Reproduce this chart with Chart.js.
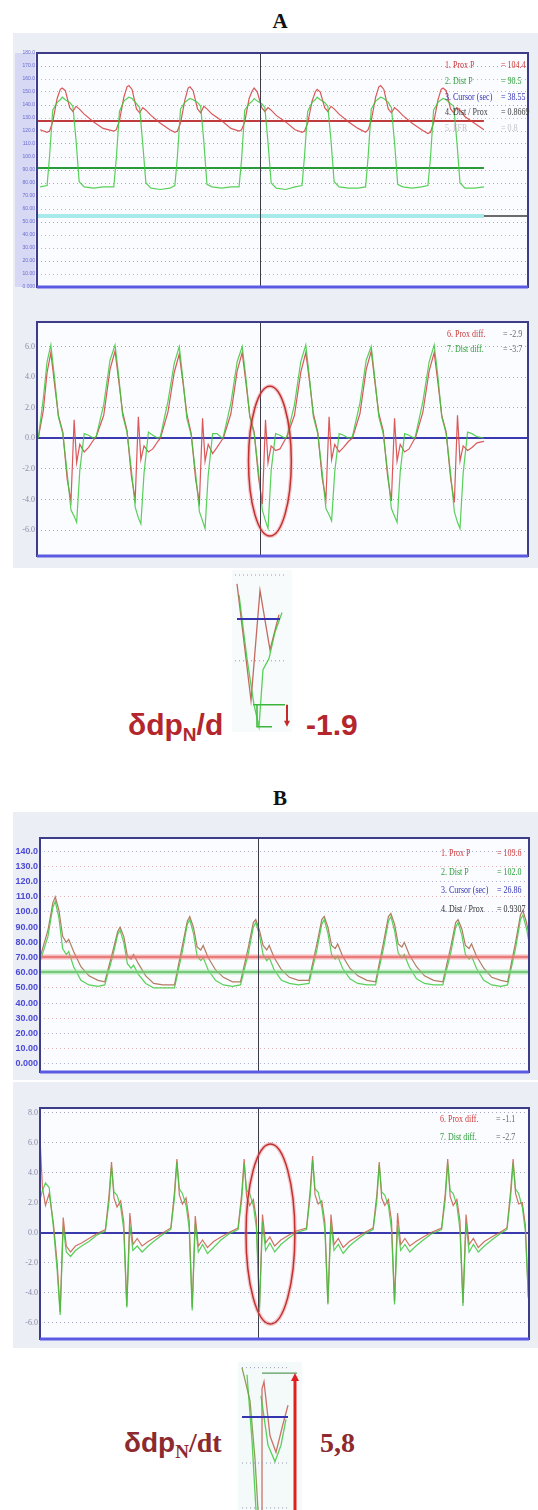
<!DOCTYPE html>
<html>
<head>
<meta charset="utf-8">
<script src="https://cdn.jsdelivr.net/npm/chart.js@4.4.1/dist/chart.umd.min.js"></script>
<style>
body{margin:0;width:538px;height:1510px;position:relative;background:#fff;overflow:hidden}
canvas{position:absolute}
.title{position:absolute;width:40px;text-align:center;font:bold 21px "Liberation Serif";line-height:21px;color:#111}
.leg{position:absolute;font:10px "Liberation Serif";line-height:12px;white-space:pre;transform:scaleX(0.8);transform-origin:left center}
.leg span{display:inline-block}
.eq{position:absolute;font-weight:bold;line-height:30px;white-space:pre}
.eq sub{font-size:19px;vertical-align:-6px;line-height:0}
</style>
</head>
<body>
<div class="title" style="left:260px;top:11px">A</div>
<div class="title" style="left:260px;top:788px">B</div>

<canvas id="pressA" width="525" height="270" style="left:13px;top:33px"></canvas>
<canvas id="diffA" width="525" height="265" style="left:13px;top:303px"></canvas>
<canvas id="zoomA" width="60" height="162" style="left:232px;top:570px"></canvas>

<canvas id="pressB" width="525" height="268" style="left:13px;top:812px"></canvas>
<canvas id="diffB" width="525" height="266" style="left:13px;top:1082px"></canvas>
<canvas id="zoomB" width="64" height="148" style="left:238px;top:1362px"></canvas>

<div class="eq" style="left:128px;top:710px;color:#b4262e;font-family:'Liberation Sans';font-size:30px">δdp<sub>N</sub>/d</div>
<div class="eq" style="left:306px;top:710px;color:#b4262e;font-family:'Liberation Sans';font-size:30px">-1.9</div>
<div class="eq" style="left:124px;top:1428px;color:#8c2a30;font-size:28px"><span style="font-family:'Liberation Sans'">δdp</span><sub style="font-family:'Liberation Serif'">N</sub><span style="font-family:'Liberation Serif'">/dt</span></div>
<div class="eq" style="left:320px;top:1428px;color:#8c2a30;font-family:'Liberation Serif';font-size:28px">5,8</div>

<script>
// ---------- panel A, pressures (time in s) ----------
const tA = [35.05,
  35.16,35.20,35.25,35.32,35.37,35.40,35.45,35.52,35.57,35.62,35.67,35.75,35.90,36.05,
  36.22,36.26,36.31,36.38,36.43,36.46,36.51,36.58,36.63,36.68,36.73,36.81,36.96,37.11,
  37.19,37.23,37.28,37.35,37.40,37.43,37.48,37.55,37.60,37.65,37.70,37.78,37.93,38.08,
  38.21,38.25,38.30,38.37,38.42,38.45,38.50,38.57,38.62,38.67,38.72,38.80,38.95,39.10,
  39.21,39.25,39.30,39.37,39.42,39.45,39.50,39.57,39.62,39.67,39.72,39.80,39.95,40.10,
  40.22,40.26,40.31,40.38,40.43,40.46,40.51,40.58,40.63,40.68,40.73,40.81,40.96,41.11,
  41.21,41.25,41.30,41.37,41.42,41.45,41.50,41.57,41.62,41.67,41.72,41.80,41.95,42.10];
const proxA = [121,
  119,120,127,145,152,153,151,138,135,139,137,133,127,122,
  120,121,128,146,154,155,152,137,134,138,136,132,126,121,
  119,120,126,144,153,154,151,137,134,139,137,133,128,122,
  120,121,127,145,151,153,150,138,135,138,136,132,127,121,
  119,120,126,143,150,152,150,138,135,139,137,133,127,122,
  119,121,128,146,154,155,152,137,134,138,136,132,126,121,
  118,119,126,144,152,153,151,137,134,138,136,131,126,121];
const distA = [77,
  78,101,136,142,144,146,144,142,139,113,81,77,76,77,
  77,99,135,143,145,146,145,141,138,110,80,76,75,76,
  78,100,137,142,144,145,144,142,139,112,79,77,76,77,
  77,98,136,141,143,145,143,141,138,111,80,76,75,77,
  78,101,135,142,144,146,144,142,139,113,81,77,76,76,
  77,100,137,143,145,146,145,142,138,111,79,77,76,77,
  78,99,136,142,144,145,144,141,139,112,80,76,76,77];
const meanProxA = 127.7, meanDistA = 91.5, refLineA = 54.6, traceEndA = 42.10;
const cursorA = 38.55;
const pressTicksA = [0,10,20,30,40,50,60,70,80,90,100,110,120,130,140,150,160,170,180];

// ---------- panel A, pressure differences ----------
const tdA = [
  35.02,35.10,35.16,35.22,35.28,35.34,35.41,35.48,35.54,35.59,35.63,35.68,35.75,35.82,35.90,
  35.94,36.06,36.16,36.24,36.30,36.36,36.43,36.50,36.56,36.61,36.65,36.70,36.77,36.84,36.92,
  36.96,37.08,37.18,37.26,37.32,37.38,37.45,37.52,37.58,37.63,37.67,37.72,37.79,37.86,37.94,
  37.96,38.08,38.18,38.26,38.32,38.38,38.45,38.52,38.58,38.63,38.67,38.72,38.79,38.86,38.94,
  38.97,39.09,39.19,39.27,39.33,39.39,39.46,39.53,39.59,39.64,39.68,39.73,39.80,39.87,39.95,
  40.01,40.13,40.23,40.31,40.37,40.43,40.50,40.57,40.63,40.68,40.72,40.77,40.84,40.91,40.99,
  41.01,41.13,41.23,41.31,41.37,41.43,41.50,41.57,41.63,41.68,41.72,41.77,41.84,41.91,41.99,
  42.10];
const dProxA = [
  0.0,1.8,4.3,5.6,3.5,1.5,0.4,-2.7,-4.1,1.2,-1.6,-0.4,-0.9,-0.6,-0.1,
  0.1,1.5,4.5,5.7,3.7,1.7,0.5,-2.5,-4.0,1.4,-1.4,-0.5,-0.9,-0.7,-0.2,
  0.0,1.7,4.3,5.5,3.6,1.6,0.3,-2.7,-4.2,1.3,-1.5,-0.4,-1.0,-0.6,-0.1,
  0.0,1.6,4.4,5.6,3.6,1.5,0.4,-2.6,-4.3,1.2,-1.6,-0.5,-0.8,-0.7,-0.1,
  0.1,1.5,4.3,5.6,3.7,1.6,0.4,-2.6,-4.0,1.4,-1.4,-0.4,-0.9,-0.6,-0.2,
  0.0,1.6,4.5,5.7,3.6,1.6,0.5,-2.5,-4.1,1.3,-1.5,-0.4,-0.9,-0.7,-0.1,
  0.0,1.7,4.4,5.6,3.6,1.5,0.4,-2.6,-4.2,1.5,-1.5,-0.5,-0.8,-0.6,-0.3,
  -0.2];
const dDistA = [
  0.0,2.6,5.0,6.1,3.9,1.4,0.3,-2.3,-4.7,-5.1,-5.5,-2.1,0.3,0.2,0.0,
  0.1,2.2,5.1,6.1,4.0,1.5,0.4,-2.1,-4.5,-5.2,-5.6,-2.3,0.4,0.2,0.0,
  0.1,2.4,4.9,6.0,3.8,1.3,0.2,-2.3,-4.8,-5.4,-5.9,-2.4,0.3,0.3,0.0,
  0.1,2.3,5.0,6.0,3.9,1.4,0.3,-2.2,-4.7,-5.4,-5.9,-2.1,0.3,0.2,0.0,
  0.1,2.2,5.0,6.1,3.9,1.4,0.3,-2.2,-4.6,-5.0,-5.4,-2.2,0.3,0.2,0.0,
  0.1,2.3,5.1,6.0,3.8,1.4,0.3,-2.2,-4.6,-5.1,-5.5,-2.2,0.3,0.2,0.0,
  0.1,2.4,5.0,6.1,4.0,1.4,0.3,-2.3,-4.8,-5.5,-5.9,-2.3,0.4,0.3,0.1,
  0.0];
const diffTicksA = [-6,-4,-2,0,2,4,6];
const circleA = {cx: 38.70, cy: -1.5, rx: 0.34, ry: 4.9};

// ---------- panel A, magnified detail ----------
const zoomA_xProx = [5,19,28,38,47];
const zoomA_prox = [1.6,-3.7,1.3,-1.4,0.2];
const zoomA_xDist = [7,15,22,27,31,37,43,50];
const zoomA_dist = [1.1,-1.8,-3.9,-4.9,-2.3,-1.8,-0.6,0.3];
const zoomA_arrow = {x: 55, from: -3.9, to: -4.9};

// ---------- panel B, pressures ----------
const tB = [
  23.30,23.43,23.51,23.55,23.61,23.67,23.73,23.77,23.85,23.97,24.10,24.25,
  24.36,24.49,24.57,24.61,24.67,24.73,24.79,24.83,24.91,25.03,25.16,25.31,
  25.50,25.63,25.71,25.75,25.81,25.87,25.93,25.97,26.05,26.17,26.30,26.45,
  26.58,26.71,26.79,26.83,26.89,26.95,27.01,27.05,27.13,27.25,27.38,27.53,
  27.70,27.83,27.91,27.95,28.01,28.07,28.13,28.17,28.25,28.37,28.50,28.65,
  28.79,28.92,29.00,29.04,29.10,29.16,29.22,29.26,29.34,29.46,29.59,29.74,
  29.89,30.02,30.10,30.14,30.20,30.26,30.32,30.36,30.44,30.56,30.69,30.84,
  30.95,31.08,31.16,31.20,31.26,31.30];
const proxB = [
  70,88,106,110,101,84,80,82,74,64,58,55,
  54,74,87,90,84,71,69,72,66,58,53,52,
  52,78,94,97,90,77,75,78,70,62,57,54,
  54,77,93,95,88,78,75,78,70,62,57,55,
  55,79,95,97,90,78,76,79,71,63,58,55,
  54,80,97,99,92,79,77,80,72,64,58,55,
  54,77,93,95,89,78,76,79,71,63,57,55,
  54,80,98,101,93,85];
const distB = [
  67,84,103,107,96,76,72,74,64,55,52,51,
  52,71,85,88,80,66,63,65,59,53,50,50,
  50,74,92,95,86,71,68,70,62,55,52,51,
  52,73,90,93,85,72,68,70,62,55,53,52,
  53,75,92,95,86,72,69,71,63,56,53,52,
  52,76,94,97,88,73,70,72,64,56,53,52,
  52,73,90,93,85,72,69,71,63,55,52,51,
  52,76,95,98,89,80];
const meanProxB = 70.4, meanDistB = 60.5;
const cursorB = 26.86;
const pressTicksB = [0,10,20,30,40,50,60,70,80,90,100,110,120,130,140];

// ---------- panel B, pressure differences ----------
const tdB = [
  23.30,23.34,23.39,23.45,23.52,23.58,23.63,23.68,23.73,23.80,23.88,23.98,24.10,24.22,
  24.37,24.43,24.47,24.51,24.56,24.62,24.67,24.72,24.77,24.82,24.89,24.97,25.07,25.19,25.32,
  25.44,25.50,25.54,25.58,25.63,25.69,25.74,25.79,25.84,25.89,25.96,26.04,26.14,26.26,26.39,
  26.54,26.60,26.64,26.68,26.73,26.79,26.84,26.89,26.94,26.99,27.06,27.14,27.24,27.36,27.49,
  27.66,27.72,27.76,27.80,27.85,27.91,27.96,28.01,28.06,28.11,28.18,28.26,28.36,28.48,28.61,
  28.75,28.81,28.85,28.89,28.94,29.00,29.05,29.10,29.15,29.20,29.27,29.35,29.45,29.57,29.70,
  29.87,29.93,29.97,30.01,30.06,30.12,30.17,30.22,30.27,30.32,30.39,30.47,30.57,30.69,30.82,
  30.94,31.00,31.04,31.08,31.13,31.19,31.24,31.29];
const dProxB = [
  6.3,3.0,1.8,2.6,0.6,-2.0,-5.3,1.0,-0.9,-1.3,-0.9,-0.7,-0.4,-0.1,
  0.2,2.5,4.7,2.3,1.7,2.1,0.7,-4.9,1.3,-0.8,-0.4,-0.9,-0.6,-0.3,0.0,
  0.3,2.7,4.9,2.5,1.9,2.3,0.8,-5.0,1.1,-0.9,-0.5,-1.0,-0.6,-0.3,0.0,
  0.3,2.6,4.9,2.4,1.8,2.2,0.9,-5.0,1.2,-0.7,-0.3,-0.9,-0.5,-0.2,0.1,
  0.3,2.8,5.1,2.5,1.9,2.1,0.7,-4.7,1.2,-0.8,-0.4,-1.0,-0.6,-0.3,0.0,
  0.3,2.5,4.7,2.3,1.8,2.2,0.8,-4.6,1.3,-0.8,-0.4,-0.9,-0.6,-0.3,0.0,
  0.3,2.6,4.9,2.4,1.8,2.2,0.8,-4.7,1.2,-0.8,-0.4,-1.0,-0.6,-0.3,0.0,
  0.3,2.8,4.9,2.6,1.9,2.0,0.5,-4.3];
const dDistB = [
  2.2,2.8,3.3,3.0,0.3,-2.5,-5.5,0.4,-1.3,-1.6,-1.2,-0.9,-0.6,-0.2,
  0.1,2.1,4.4,2.7,2.5,1.7,0.2,-5.0,0.5,-1.2,-0.9,-1.3,-0.9,-0.5,-0.1,
  0.2,2.3,4.7,2.9,2.6,1.8,0.3,-5.2,0.6,-1.3,-0.8,-1.4,-1.0,-0.5,-0.1,
  0.2,2.2,4.6,2.8,2.6,1.8,0.3,-5.3,0.7,-1.2,-0.7,-1.3,-0.8,-0.4,0.0,
  0.2,2.4,4.8,2.9,2.7,1.7,0.2,-4.8,0.6,-1.2,-0.8,-1.4,-0.9,-0.5,-0.1,
  0.2,2.1,4.5,2.7,2.5,1.8,0.2,-4.8,0.5,-1.2,-0.8,-1.3,-0.9,-0.5,-0.1,
  0.2,2.2,4.6,2.8,2.6,1.8,0.2,-4.9,0.6,-1.3,-0.8,-1.3,-0.9,-0.5,-0.1,
  0.2,2.4,4.6,2.9,2.6,1.7,0.1,-4.4];
const diffTicksB = [-6,-4,-2,0,2,4,6,8];
const circleB = {cx: 27.07, cy: -0.1, rx: 0.40, ry: 6.0};

// ---------- panel B, magnified detail ----------
const zoomB_xProx = [24,24,26,32,38,45,50];
const zoomB_prox = [-3.96,1.2,1.5,-0.8,-1.5,-0.3,0.5];
const zoomB_xEarly = [4,12,17,20];
const zoomB_early = [2.1,0.7,-1.8,-3.96];
const zoomB_xEarly2 = [9,14,18];
const zoomB_early2 = [1.8,-1.0,-3.96];
const zoomB_xDist = [23,30,37,43,48];
const zoomB_dist = [0.9,-1.2,-1.9,-1.2,-0.1];
const zoomB_arrow = {x: 57, from: -3.96, to: 1.87};

// ---------- readouts ----------
const legLabelsA1 = ["1. Prox P","2. Dist P","3. Cursor (sec)","4. Dist / Prox","5. FFR"];
const legValuesA1 = ["= 104.4","= 90.5","= 38.55","= 0.8669","= 0.8"];
const legLabelsA2 = ["6. Prox diff.","7. Dist diff."];
const legValuesA2 = ["= -2.9","= -3.7"];
const legLabelsB1 = ["1. Prox P","2. Dist P","3. Cursor (sec)","4. Dist / Prox"];
const legValuesB1 = ["= 109.6","= 102.0","= 26.86","= 0.9307"];
const legLabelsB2 = ["6. Prox diff.","7. Dist diff."];
const legValuesB2 = ["= -1.1","= -2.7"];

const RED = 'rgba(214,70,70,0.9)';
const GREEN = 'rgba(60,200,60,0.85)';

function legend(x, y0, dy, labels, values, colors, valColors) {
  labels.forEach(function (lab, i) {
    const d = document.createElement('div');
    d.className = 'leg';
    d.style.left = x + 'px';
    d.style.top = (y0 + i * dy - 6) + 'px';
    d.innerHTML = '<span style="width:70px;color:' + colors[i] + '">' + lab + '</span>' +
      '<span style="color:' + valColors[i] + '">' + values[i] + '</span>';
    document.body.appendChild(d);
  });
}

function pts(xs, ys) { return xs.map(function (x, i) { return {x: x, y: ys[i]}; }); }
function trace(xs, ys, color, w, dash) {
  return {data: pts(xs, ys), borderColor: color, borderWidth: w, borderDash: dash || [],
    pointRadius: 0, tension: 0, fill: false};
}

const deco = {
  id: 'deco',
  beforeDraw(chart, args, o) {
    const ctx = chart.ctx, a = chart.chartArea;
    ctx.save();
    if (o.bg) { ctx.fillStyle = o.bg; ctx.fillRect(0, 0, chart.width, chart.height); }
    if (o.band) { ctx.fillStyle = o.band; ctx.fillRect(2, a.top, a.left - 4, a.bottom - a.top); }
    if (o.plotBg) { ctx.fillStyle = o.plotBg; ctx.fillRect(a.left, a.top, a.right - a.left, a.bottom - a.top); }
    ctx.restore();
  },
  afterDatasetsDraw(chart, args, o) {
    const ctx = chart.ctx, a = chart.chartArea, x = chart.scales.x, y = chart.scales.y;
    ctx.save();
    if (o.cursor != null) {
      const cx = Math.round(x.getPixelForValue(o.cursor)) + 0.5;
      ctx.strokeStyle = '#3c3c48'; ctx.lineWidth = 1;
      ctx.beginPath(); ctx.moveTo(cx, a.top); ctx.lineTo(cx, a.bottom); ctx.stroke();
    }
    if (o.ellipse) {
      const e = o.ellipse;
      const cx = x.getPixelForValue(e.cx), cy = y.getPixelForValue(e.cy);
      const rx = Math.abs(x.getPixelForValue(e.cx + e.rx) - cx);
      const ry = Math.abs(y.getPixelForValue(e.cy + e.ry) - cy);
      ctx.beginPath(); ctx.ellipse(cx, cy, rx, ry, 0, 0, Math.PI * 2);
      ctx.strokeStyle = 'rgba(230,110,110,0.35)'; ctx.lineWidth = 4; ctx.stroke();
      ctx.strokeStyle = '#c23030'; ctx.lineWidth = 1.5; ctx.stroke();
    }
    if (o.arrow) {
      const r = o.arrow;
      const ax = x.getPixelForValue(r.x), y0 = y.getPixelForValue(r.from), y1 = y.getPixelForValue(r.to);
      const dir = y1 > y0 ? 1 : -1;
      ctx.strokeStyle = r.color; ctx.fillStyle = r.color; ctx.lineWidth = r.width;
      ctx.beginPath(); ctx.moveTo(ax, y0); ctx.lineTo(ax, y1 - dir * r.head * 1.6); ctx.stroke();
      ctx.beginPath(); ctx.moveTo(ax, y1); ctx.lineTo(ax - r.head, y1 - dir * r.head * 2);
      ctx.lineTo(ax + r.head, y1 - dir * r.head * 2); ctx.closePath(); ctx.fill();
    }
    if (o.frame) {
      ctx.strokeStyle = '#3c3c88'; ctx.lineWidth = 2;
      ctx.strokeRect(a.left, a.top, a.right - a.left, a.bottom - a.top);
      ctx.strokeStyle = '#5a5ae2'; ctx.lineWidth = 3;
      ctx.beginPath(); ctx.moveTo(a.left, a.bottom); ctx.lineTo(a.right, a.bottom); ctx.stroke();
    }
    ctx.restore();
  }
};
Chart.register(deco);

function makeChart(id, datasets, c) {
  const yAxis = {min: c.yMin, max: c.yMax, display: !!c.ticks};
  if (c.ticks) {
    yAxis.afterBuildTicks = function (s) { s.ticks = c.ticks.map(function (v) { return {value: v}; }); };
    yAxis.afterFit = function (s) { s.width = c.axisW; };
    yAxis.ticks = {font: c.tickFont, color: c.tickColor, padding: 2, autoSkip: false, callback: c.fmt};
    yAxis.grid = {color: c.gridColor, lineWidth: c.gridWidth, drawTicks: false};
    yAxis.border = {display: false, dash: c.gridDash};
  }
  return new Chart(document.getElementById(id), {
    type: 'line',
    data: {datasets: datasets},
    options: {
      responsive: false, animation: false, devicePixelRatio: 1,
      layout: {padding: c.pad},
      plugins: {legend: {display: false}, tooltip: {enabled: false}, deco: c.deco},
      scales: {x: {type: 'linear', display: false, min: c.xMin, max: c.xMax}, y: yAxis}
    }
  });
}

function fmtPress(v) { return v >= 100 ? v.toFixed(1) : v >= 10 ? v.toFixed(2) : v.toFixed(3); }
function fmtDiff(v) { return v.toFixed(1); }
const dotted = function (ctx) { return ctx.tick && ctx.tick.value === 0 ? [] : [1, 3]; };
const diffGridColor = function (ctx) { return ctx.tick && ctx.tick.value === 0 ? '#3a3aae' : '#a4a6c0'; };
const diffGridWidth = function (ctx) { return ctx.tick && ctx.tick.value === 0 ? 2 : 1; };
const rowColors = ['#e0a4a4', '#9ed49e', '#a4a4e4'];

// A: pressure traces
makeChart('pressA', [
  trace([35.0, traceEndA], [refLineA, refLineA], '#a6eaea', 4),
  trace([traceEndA - 0.05, 42.8], [refLineA, refLineA], '#6c6c6c', 2),
  trace(tA, distA, GREEN, 1.2),
  trace(tA, proxA, RED, 1.2),
  trace([35.0, traceEndA], [meanDistA, meanDistA], '#2a9a3a', 2),
  trace([35.0, traceEndA], [meanProxA, meanProxA], '#c03c3c', 2)
], {xMin: 35.0, xMax: 42.8, yMin: 0, yMax: 180, ticks: pressTicksA, axisW: 24, fmt: fmtPress,
  tickFont: {size: 5, family: '"Liberation Sans Narrow", "Liberation Sans"'}, tickColor: '#6a6ad6',
  gridColor: function (ctx) { return rowColors[ctx.index % 3]; }, gridWidth: 1, gridDash: [1, 3],
  pad: {left: 0, right: 10, top: 20, bottom: 16},
  deco: {bg: '#eceef6', band: '#d6d8f4', plotBg: '#fbfcff', frame: true, cursor: cursorA}});

// A: pressure differences
makeChart('diffA', [
  trace(tdA, dDistA, GREEN, 1.2),
  trace(tdA, dProxA, RED, 1.2)
], {xMin: 35.0, xMax: 42.8, yMin: -7.7, yMax: 7.6, ticks: diffTicksA, axisW: 24, fmt: fmtDiff,
  tickFont: {size: 8, family: '"Liberation Serif"'}, tickColor: '#8a8aa6',
  gridColor: diffGridColor, gridWidth: diffGridWidth, gridDash: dotted,
  pad: {left: 0, right: 10, top: 19, bottom: 12},
  deco: {bg: '#eceef6', plotBg: '#fbfcff', frame: true, cursor: cursorA, ellipse: circleA}});

// A: magnified detail
makeChart('zoomA', [
  trace([3, 55], [2.0, 2.0], '#9a9aae', 1, [1, 3]),
  trace([3, 52], [-1.9, -1.9], '#9a9aae', 1, [1, 3]),
  trace([5, 48], [0, 0], '#3434b0', 2),
  trace(zoomA_xDist, zoomA_dist, GREEN, 1.3),
  trace(zoomA_xProx, zoomA_prox, 'rgba(190,90,80,0.9)', 1.3),
  trace([21, 53], [-3.9, -3.9], '#3cb43c', 1.5),
  trace([25, 25, 40], [-3.9, -4.9, -4.9], '#3cb43c', 1.5)
], {xMin: 0, xMax: 60, yMin: -5.14, yMax: 2.23, pad: 0,
  deco: {bg: '#f8fbfb', arrow: {x: zoomA_arrow.x, from: zoomA_arrow.from, to: zoomA_arrow.to, color: '#c42a2a', width: 2, head: 3}}});

// B: pressure traces
makeChart('pressB', [
  trace([23.3, 31.3], [meanProxB, meanProxB], 'rgba(240,130,130,0.55)', 5),
  trace([23.3, 31.3], [meanDistB, meanDistB], 'rgba(140,220,140,0.55)', 5),
  trace(tB, distB, GREEN, 1.2),
  trace(tB, proxB, 'rgba(170,110,80,0.9)', 1.2),
  trace([23.3, 31.3], [meanProxB, meanProxB], '#d84848', 1.5),
  trace([23.3, 31.3], [meanDistB, meanDistB], '#2e9a3a', 1.5)
], {xMin: 23.3, xMax: 31.3, yMin: -5.3, yMax: 148.7, ticks: pressTicksB, axisW: 27, fmt: fmtPress,
  tickFont: {size: 9, weight: 'bold', family: '"Liberation Sans Narrow", "Liberation Sans"'}, tickColor: '#4a4ad6',
  gridColor: function (ctx) { return ctx.index % 2 ? '#e2b4b4' : '#b0b4d4'; }, gridWidth: 1, gridDash: [1, 3],
  pad: {left: 0, right: 9, top: 26, bottom: 8},
  deco: {bg: '#eceef6', plotBg: '#fbfcff', frame: true, cursor: cursorB}});

// B: pressure differences
makeChart('diffB', [
  trace(tdB, dDistB, GREEN, 1.2),
  trace(tdB, dProxB, 'rgba(200,90,70,0.85)', 1.2)
], {xMin: 23.3, xMax: 31.3, yMin: -7.1, yMax: 8.3, ticks: diffTicksB, axisW: 27, fmt: fmtDiff,
  tickFont: {size: 8, family: '"Liberation Serif"'}, tickColor: '#8a8aa6',
  gridColor: diffGridColor, gridWidth: diffGridWidth, gridDash: dotted,
  pad: {left: 0, right: 9, top: 26, bottom: 9},
  deco: {bg: '#eceef6', plotBg: '#fbfcff', frame: true, cursor: cursorB, ellipse: circleB}});

// B: magnified detail
makeChart('zoomB', [
  trace([4, 52], [2.1, 2.1], '#9a9aae', 1, [1, 3]),
  trace([4, 50], [-1.96, -1.96], '#9a9aae', 1, [1, 3]),
  trace([4, 50], [-3.87, -3.87], '#9a9aae', 1, [1, 3]),
  trace([4, 50], [0, 0], '#3434b0', 2),
  trace(zoomB_xEarly, zoomB_early, 'rgba(130,150,70,0.9)', 1.3),
  trace(zoomB_xEarly2, zoomB_early2, GREEN, 1.3),
  trace(zoomB_xDist, zoomB_dist, GREEN, 1.3),
  trace(zoomB_xProx, zoomB_prox, 'rgba(200,100,90,0.9)', 1.3),
  trace([24, 59], [1.87, 1.87], '#5a9a5a', 1.2)
], {xMin: 0, xMax: 64, yMin: -3.96, yMax: 2.34, pad: 0,
  deco: {bg: '#f4fafa', arrow: {x: zoomB_arrow.x, from: zoomB_arrow.from, to: zoomB_arrow.to, color: '#e01e1e', width: 3, head: 4}}});

legend(445, 65, 15.8, legLabelsA1, legValuesA1,
  ['#c83a3a', '#2e9e3a', '#3434b4', '#404040', '#c4c4c4'],
  ['#c83a3a', '#2e9e3a', '#3434b4', '#404040', '#c4c4c4']);
legend(447, 334, 15, legLabelsA2, legValuesA2, ['#c83a3a', '#2e9e3a'], ['#6a6a6a', '#6a6a6a']);
legend(441, 853, 18.7, legLabelsB1, legValuesB1,
  ['#d03a3a', '#2e9e3a', '#3434b4', '#303030'], ['#d03a3a', '#2e9e3a', '#3434b4', '#303030']);
legend(440, 1119, 18, legLabelsB2, legValuesB2, ['#d03a3a', '#2e9e3a'], ['#6a6a6a', '#6a6a6a']);
</script>
</body>
</html>
